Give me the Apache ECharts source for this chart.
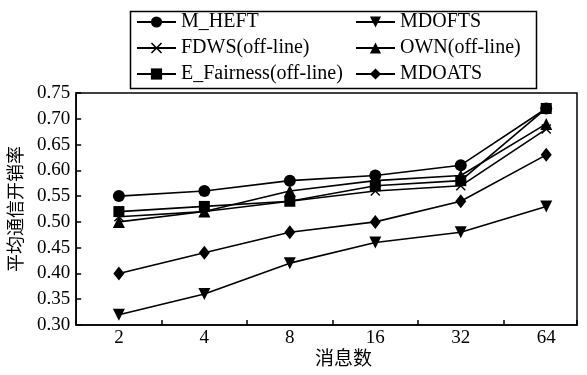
<!DOCTYPE html>
<html>
<head>
<meta charset="utf-8">
<script src="https://cdn.jsdelivr.net/npm/echarts@6/dist/echarts.min.js"></script>
<style>html,body{margin:0;padding:0;background:#fff;}#c{width:587px;height:375px;}</style>
</head>
<body>
<div id="c"></div>
<script>
var categories = ['2', '4', '8', '16', '32', '64'];
var yTicks = [0.30, 0.75, 0.05];
var M_HEFT = [0.55, 0.56, 0.58, 0.59, 0.61, 0.72];
var MDOFTS = [0.32, 0.36, 0.42, 0.46, 0.48, 0.53];
var FDWS = [0.51, 0.52, 0.54, 0.56, 0.57, 0.68];
var OWN = [0.50, 0.52, 0.56, 0.58, 0.59, 0.69];
var E_Fairness = [0.52, 0.53, 0.54, 0.57, 0.58, 0.72];
var MDOATS = [0.40, 0.44, 0.48, 0.50, 0.54, 0.63];

var FONT = 'Liberation Serif, Times New Roman, Noto Sans CJK SC, serif';
var CROSS = 'path://M0,1L1,0L5,4L9,0L10,1L6,5L10,9L9,10L5,6L1,10L0,9L4,5Z';

function pts(arr) { return arr.map(function (v, i) { return [i + 0.5, v]; }); }
function mk(name, arr, symbol, size, rot) {
  return {
    name: name, type: 'line', data: pts(arr), xAxisIndex: 0,
    symbol: symbol, symbolSize: size, symbolRotate: rot || 0,
    lineStyle: { color: '#000', width: 1.6 },
    itemStyle: { color: '#000' },
    emphasis: { disabled: true }, animation: false
  };
}

var legendText = { fontFamily: FONT, fontSize: 20, color: '#000', lineHeight: 20 };
var chart = echarts.init(document.getElementById('c'));
chart.setOption({
  backgroundColor: '#fff',
  animation: false,
  grid: { left: 76, right: 10, top: 93, bottom: 50, show: true, borderColor: '#000', borderWidth: 1.5, backgroundColor: 'transparent' },
  legend: [
    { data: ['M_HEFT', 'FDWS(off-line)', 'E_Fairness(off-line)'], orient: 'vertical', left: 136, top: 12, padding: 0,
      itemWidth: 39, itemHeight: 14, itemGap: 6, textStyle: legendText, selectedMode: false },
    { data: ['MDOFTS', 'OWN(off-line)', 'MDOATS'], orient: 'vertical', left: 355, top: 12, padding: 0,
      itemWidth: 39, itemHeight: 14, itemGap: 6, textStyle: legendText, selectedMode: false }
  ],
  graphic: [{ type: 'rect', left: 128, top: 9, shape: { width: 406, height: 77 }, style: { fill: 'none', stroke: '#000', lineWidth: 1.5 } }],
  xAxis: [
    { type: 'value', min: 0, max: categories.length - 0.14, interval: 1, position: 'bottom',
      axisLine: { show: true, lineStyle: { color: '#000', width: 1.5 } },
      axisTick: { show: true, inside: true, length: 5, lineStyle: { color: '#000', width: 1.5 } },
      axisLabel: { show: false }, splitLine: { show: false },
      name: '消息数', nameLocation: 'middle', nameGap: 26,
      nameTextStyle: { fontFamily: FONT, fontSize: 19, color: '#000', padding: [0, 0, 0, 34] } },
    { type: 'value', min: 0, max: categories.length - 0.14, interval: 0.5, position: 'bottom',
      axisLine: { show: false }, axisTick: { show: false }, splitLine: { show: false },
      axisLabel: { show: true, margin: 4, fontFamily: FONT, fontSize: 19, color: '#000',
        formatter: function (v) {
          var k = v - 0.5; var i = Math.round(k);
          return (Math.abs(k - i) < 1e-6 && i >= 0 && i < categories.length) ? categories[i] : '';
        } } }
  ],
  yAxis: {
    type: 'value', min: yTicks[0], max: yTicks[1], interval: yTicks[2],
    axisLine: { show: true, lineStyle: { color: '#000', width: 1.5 } },
    axisTick: { show: true, inside: true, length: 5, lineStyle: { color: '#000', width: 1.5 } },
    splitLine: { show: false },
    axisLabel: { margin: 6, fontFamily: FONT, fontSize: 19, color: '#000', formatter: function (v) { return v.toFixed(2); } },
    name: '平均通信开销率', nameLocation: 'middle', nameGap: 44,
    nameTextStyle: { fontFamily: FONT, fontSize: 18, color: '#000' }
  },
  series: [
    mk('M_HEFT', M_HEFT, 'circle', 12),
    mk('MDOFTS', MDOFTS, 'triangle', 12, 180),
    mk('FDWS(off-line)', FDWS, CROSS, 10),
    mk('OWN(off-line)', OWN, 'triangle', 12),
    mk('E_Fairness(off-line)', E_Fairness, 'rect', 11),
    mk('MDOATS', MDOATS, 'diamond', [11, 14])
  ]
});
</script>
</body>
</html>
